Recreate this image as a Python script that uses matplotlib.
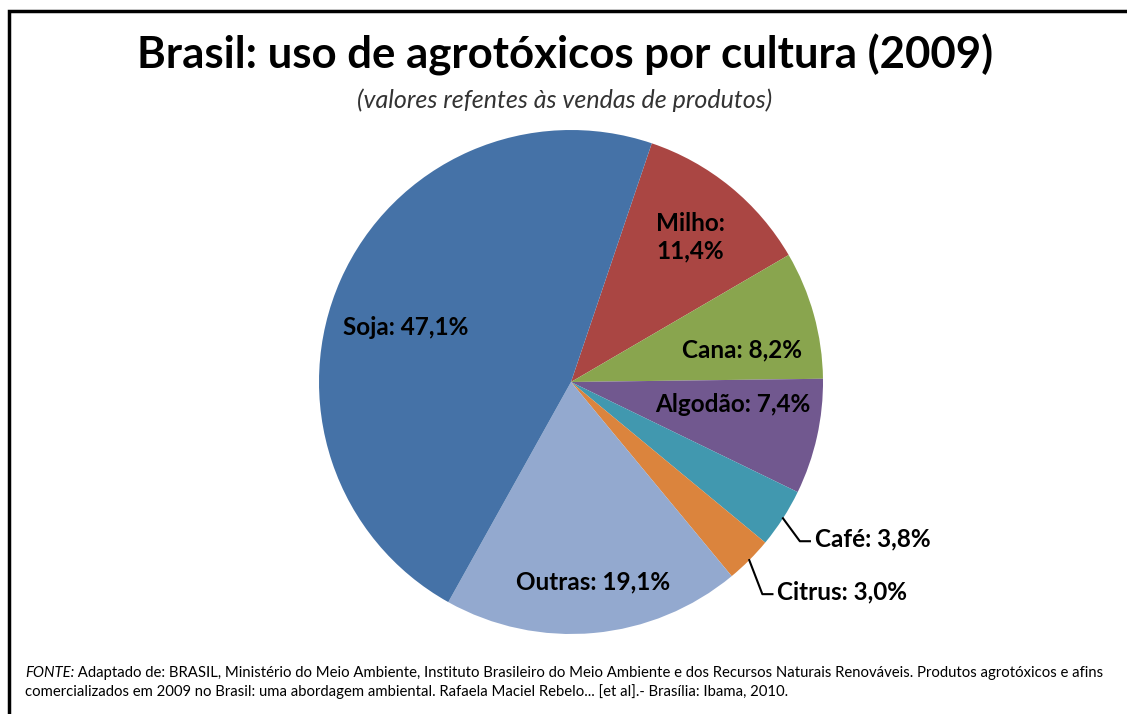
import numpy as np
import matplotlib.pyplot as plt
from matplotlib.patches import Rectangle

# dados (vendas por cultura, %)
culturas = ['Milho', 'Cana', 'Algodão', 'Café', 'Citrus', 'Outras', 'Soja']
valores = [11.4, 8.2, 7.4, 3.8, 3.0, 19.1, 47.1]
rotulos = ['Milho:\n11,4%', 'Cana: 8,2%', 'Algodão: 7,4%', 'Café: 3,8%',
           'Citrus: 3,0%', 'Outras: 19,1%', 'Soja: 47,1%']
cores = ['#AA4643', '#89A54E', '#71588F', '#4198AF', '#DB843D', '#93A9CF', '#4572A7']

plt.rcParams['font.family'] = ['Lato', 'DejaVu Sans']

W, H = 1127, 714
fig = plt.figure(figsize=(W / 100, H / 100), dpi=100)

# moldura preta
fig.patches.append(Rectangle((9 / W, -0.1), 1.2, (H - 11) / H + 0.1, transform=fig.transFigure,
                             fill=False, edgecolor='black', linewidth=2.5))

cx, cy, R = 571, 382, 252
ax = fig.add_axes([(cx - R) / W, (H - cy - R) / H, 2 * R / W, 2 * R / H])
wedges, _ = ax.pie(valores, colors=cores, startangle=71.3, counterclock=False,
                   radius=1, wedgeprops=dict(linewidth=0))
ax.set_xlim(-1, 1)
ax.set_ylim(-1, 1)
ax.set_axis_off()

# posição dos rótulos internos (raio, ângulo) por fatia
pos_int = {0: (0.745, 50.6), 1: (0.69, 10.5), 2: (0.65, -8.0), 5: (0.80, -83.7), 6: (0.69, 161.6)}
for i, (r, a) in pos_int.items():
    t = np.deg2rad(a)
    ax.text(r * np.cos(t), r * np.sin(t), rotulos[i], ha='center', va='center',
            fontsize=17.5, fontweight='bold', color='black', linespacing=1.25)

# rótulos externos com linha guia
for i, (dx, dy) in {3: (0.067, -0.091), 4: (0.052, -0.135)}.items():
    w = wedges[i]
    t = np.deg2rad((w.theta1 + w.theta2) / 2)
    x0, y0 = np.cos(t), np.sin(t)
    x1, y1 = x0 + dx, y0 + dy
    ax.plot([x0, x1, x1 + 0.04], [y0, y1, y1], color='black', lw=1.5, clip_on=False)
    ax.text(x1 + 0.06, y1 + 0.01, rotulos[i], ha='left', va='center', fontsize=17.5,
            fontweight='bold', color='black', clip_on=False)

fig.text(565 / W, 1 - 55 / H, 'Brasil: uso de agrotóxicos por cultura (2009)',
         ha='center', va='center', fontsize=31.5, fontweight='bold')
fig.text(565 / W, 1 - 100 / H, '(valores refentes às vendas de produtos)',
         ha='center', va='center', fontsize=18, fontstyle='italic', color='#333333')

f = fig.text(25 / W, 1 - 673 / H, 'FONTE:', ha='left', va='center', fontsize=10.7,
             fontstyle='italic')
ax.annotate(' Adaptado de: BRASIL, Ministério do Meio Ambiente, Instituto Brasileiro do Meio '
            'Ambiente e dos Recursos Naturais Renováveis. Produtos agrotóxicos e afins',
            xy=(1, 0.5), xycoords=f, ha='left', va='center', fontsize=10.7,
            annotation_clip=False)
fig.text(25 / W, 1 - 692 / H, 'comercializados em 2009 no Brasil: uma abordagem ambiental. '
         'Rafaela Maciel Rebelo... [et al].- Brasília: Ibama, 2010.',
         ha='left', va='center', fontsize=10.7)

fig.savefig('out.png', dpi=100)
